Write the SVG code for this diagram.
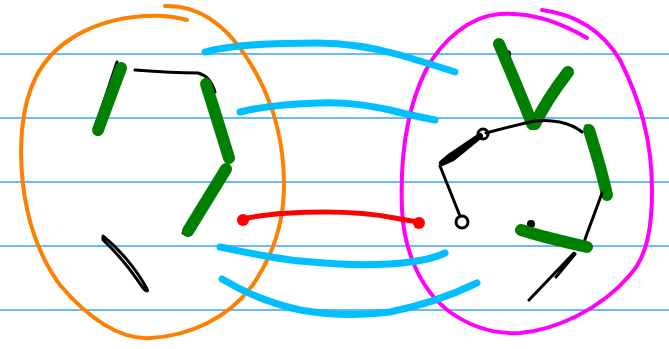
<svg xmlns="http://www.w3.org/2000/svg" width="669" height="349" viewBox="0 0 669 349">
<style>
.rule{stroke:#3aa0ff;stroke-width:1.5;fill:none}
.s{fill:none;stroke-linecap:round;stroke-linejoin:round}
.or{stroke:#ff8000;stroke-width:4}
.mg{stroke:#ff00ff;stroke-width:4}
.cy{stroke:#00bfff;stroke-width:7}
.rd{stroke:#ff0000;stroke-width:5}
.gr{stroke:#008000;stroke-width:12}
.bk{stroke:#000;stroke-width:3}
</style>
<rect width="669" height="349" fill="#fff"/>
<g id="rules">
<line class="rule" x1="0" y1="54" x2="669" y2="54"/>
<line class="rule" x1="0" y1="118" x2="669" y2="118"/>
<line class="rule" x1="0" y1="182" x2="669" y2="182"/>
<line class="rule" x1="0" y1="246" x2="669" y2="246"/>
<line class="rule" x1="0" y1="310" x2="669" y2="310"/>
</g>
<g id="left-set">
<path class="s or" d="M187,20 C160,12 110,14 72,38 C40,58 26,88 22,130 C18,180 27,240 60,285 C88,318 120,340 150,338 C190,336 228,318 252,286 C273,256 284,222 284,185 C284,140 272,95 245,55 C225,25 200,5 165,6"/>
<path class="s bk" stroke-width="2.5" d="M117,62 L95,128"/>
<path class="s gr" d="M121,68 L98,130"/>
<path class="s bk" d="M135,70 C160,72 185,73 198,73 C206,75 212,82 215,92"/>
<path class="s gr" stroke-width="13" d="M206,84 C213,106 222,135 229,158"/>
<path class="s bk" d="M224,172 L183,233"/>
<path class="s gr" d="M226,169 L188,231"/>
<path class="s bk" d="M103,236 C118,248 136,268 147,289 C149,292 145,291 143,288 C131,270 116,252 103,240 Z"/>
</g>
<g id="right-set">
<path class="s mg" d="M587,38 C560,22 530,12 500,14 C470,16 442,40 426,70 C406,110 400,160 402,210 C404,250 420,290 450,312 C475,330 500,334 520,333 C555,330 600,310 630,275 C648,255 652,225 652,190 C652,140 640,100 620,60 C605,35 580,15 542,10"/>
<circle cx="507" cy="54" r="4" fill="#000"/>
<path class="s gr" stroke-width="15" d="M499,44 C511,72 523,100 532,124"/>
<path class="s gr" stroke-width="11" d="M568,72 C555,89 543,107 535,124"/>
<path class="s bk" d="M486,133 C505,128 520,124 535,121 C550,119 570,122 582,132"/>
<circle cx="483" cy="134" r="5" fill="none" stroke="#000" stroke-width="3"/>
<path d="M480,136 L449,157 L442,163 L453,158 Z" fill="#000" stroke="#000" stroke-width="6" stroke-linejoin="round"/>
<path class="s bk" d="M440,166 L460,216"/>
<circle cx="462" cy="222" r="6" fill="none" stroke="#000" stroke-width="3"/>
<path class="s bk" stroke-width="5" d="M586,126 C595,150 602,175 606,198"/>
<path class="s gr" stroke-width="11" d="M589,130 C596,152 602,172 607,195"/>
<path class="s bk" stroke-width="4" d="M602,193 C596,210 588,230 582,248"/>
<circle cx="531" cy="224" r="4" fill="#000"/>
<path class="s gr" stroke-width="10" d="M521,230 C540,236 565,242 587,247"/>
<path class="s bk" d="M574,253 L529,300 M575,254 L556,277"/>
</g>
<g id="connectors">
<path class="s cy" d="M205,52 C230,45 270,43 317,43 C350,43 375,48 400,55 C420,61 440,67 455,72"/>
<path class="s cy" d="M240,112 C260,107 285,104 320,103 C350,102 370,106 390,110 C405,114 420,117 435,120"/>
<path class="s cy" d="M220,247 C245,252 270,258 300,261 C340,265 380,266 410,262 C425,260 437,257 445,253"/>
<path class="s cy" d="M222,279 C240,290 265,302 300,310 C330,315 360,316 390,312 C420,306 450,296 477,283"/>
<path class="s rd" d="M243,219 C265,214 290,212 325,212 C355,212 375,214 395,218 C405,220 412,221 419,222"/>
<circle cx="243" cy="220" r="6" fill="#ff0000"/>
<circle cx="419" cy="223" r="6" fill="#ff0000"/>
</g>
</svg>
